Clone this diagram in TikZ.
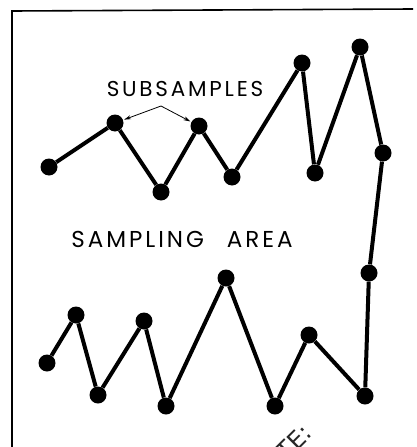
\documentclass[tikz,border=0pt]{standalone}
\usepackage{fontspec}
\usepackage{tikz}
\usetikzlibrary{positioning,arrows.meta}
\newfontfamily\labelfont[LetterSpace=13]{Poppins}
\newfontfamily\stampfont{DejaVu Sans}

\begin{document}
\begin{tikzpicture}[x=1pt, y=-1pt,
  dot/.style={circle, fill=black, inner sep=0pt, minimum size=17pt},
  link/.style={line width=4pt, line join=round},
  lbl/.style={font=\labelfont\fontsize{21.5}{24}\selectfont, inner sep=0pt},
  pointer/.style={line width=0.8pt, -{Stealth[length=7pt,width=4pt]}, shorten >=1pt}
]
  \useasboundingbox (0,0) rectangle (417,447);
  % frame
  \draw[line width=1.6pt] (12,447) -- (12,11) -- (413,9);

  % top row of subsamples
  \node[dot] (s1) at (49,167) {};
  \node[dot] (s2) at (115,123) {};
  \node[dot] (s3) at (161,192) {};
  \node[dot] (s4) at (199,126) {};
  \node[dot] (s5) at (232,177) {};
  \node[dot] (s6) at (302,63) {};
  \node[dot] (s7) at (315,173) {};
  \node[dot] (s8) at (360,47) {};
  \node[dot] (s9) at (383,153) {};
  % right side
  \node[dot] (s10) at (369,273) {};
  \node[dot] (s11) at (365,396) {};
  % bottom row
  \node[dot] (s12) at (309,335) {};
  \node[dot] (s13) at (275,406) {};
  \node[dot] (s14) at (226,278) {};
  \node[dot] (s15) at (166,406) {};
  \node[dot] (s16) at (144,321) {};
  \node[dot] (s17) at (98,395) {};
  \node[dot] (s18) at (76,315) {};
  \node[dot] (s19) at (47,363) {};

  \draw[link] (s1) -- (s2) -- (s3) -- (s4) -- (s5) -- (s6) -- (s7) -- (s8)
    -- (s9) -- (s10) -- (s11) -- (s12) -- (s13) -- (s14) -- (s15) -- (s16)
    -- (s17) -- (s18) -- (s19);

  % labels
  \node[lbl] (sub) at (185,89) {SUBSAMPLES};
  \coordinate (apex) at (161,106);
  \draw[pointer] (apex) -- (s2);
  \draw[pointer] (apex) -- (s4);

  \node[lbl, font=\labelfont\fontsize{23}{26}\selectfont] (area) at (182,239) {SAMPLING\hspace{23pt}AREA};

  \node[rotate=45, font=\stampfont\fontsize{24}{26}\selectfont, text=black!85] (stamp) at (294,442) {TE:};
\end{tikzpicture}
\end{document}
